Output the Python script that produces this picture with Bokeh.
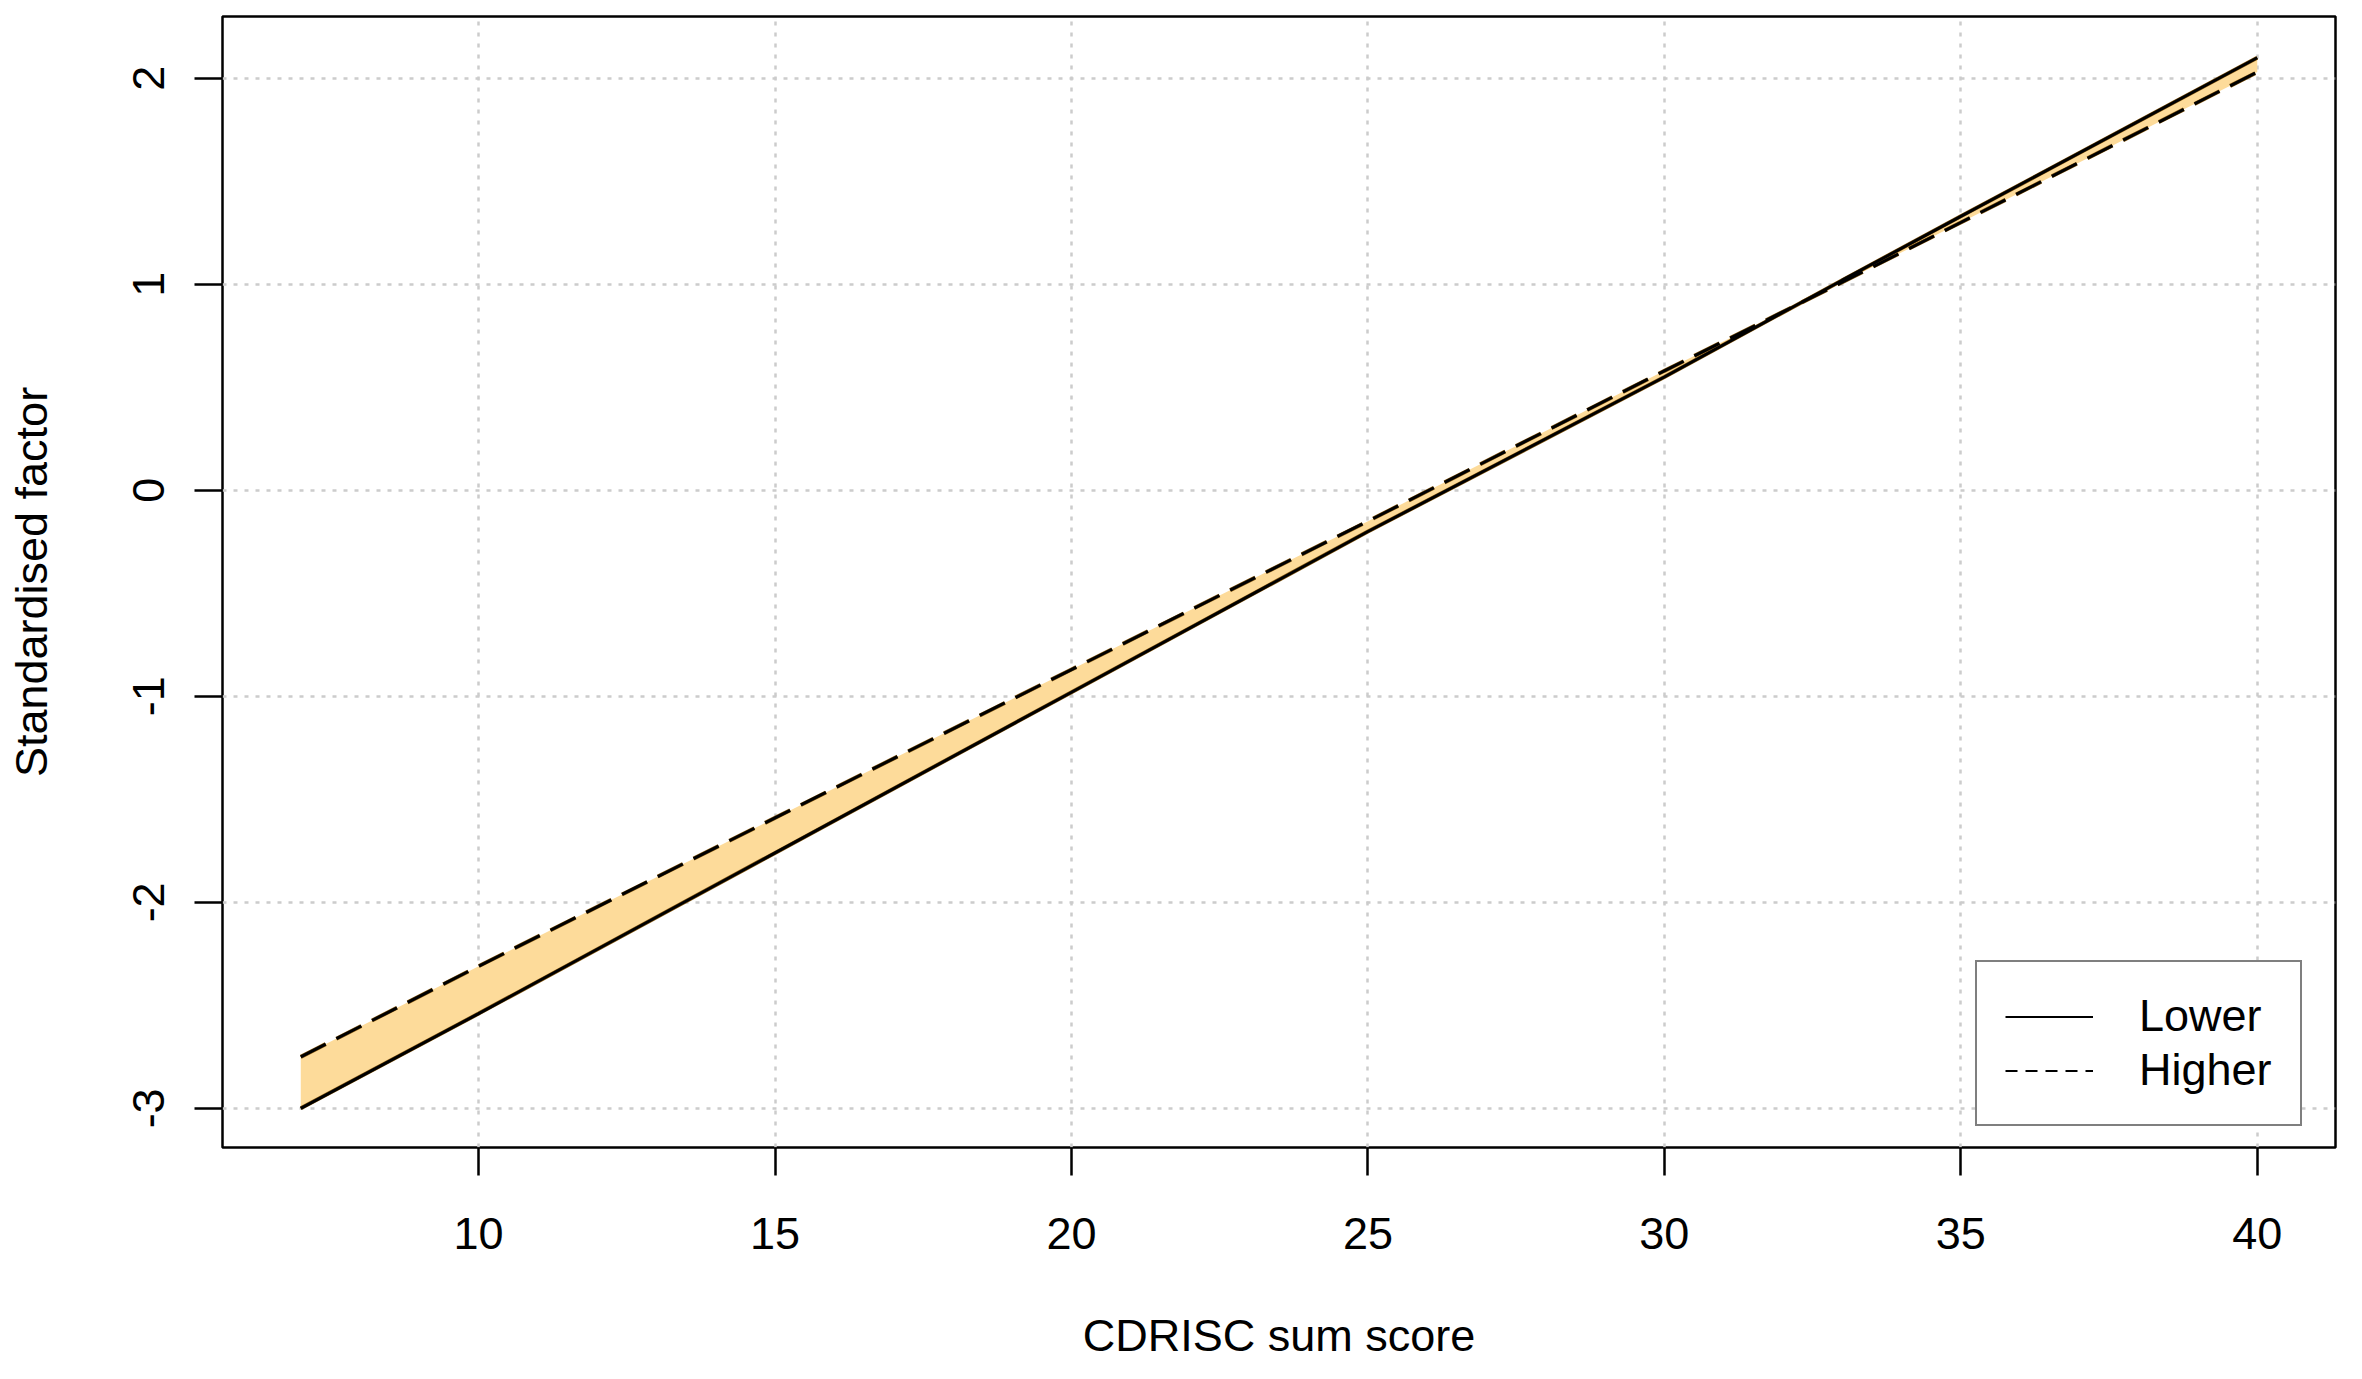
import numpy as np
from bokeh.plotting import figure
from bokeh.models import Range1d, Legend, LegendItem, FixedTicker, ColumnDataSource
from bokeh.embed import file_html
from bokeh.resources import INLINE

# Data
cdrisc = [7, 10, 15, 20, 25, 30, 33, 35, 40]
lower = [-3.00, -2.54, -1.76, -0.98, -0.20, 0.55, 1.02, 1.33, 2.10]
higher = [-2.75, -2.31, -1.59, -0.87, -0.15, 0.58, 1.01, 1.30, 2.03]
x_ticks = [10, 15, 20, 25, 30, 35, 40]
y_ticks = [-3, -2, -1, 0, 1, 2]
legend_labels = ["Lower", "Higher"]

FONT = "Liberation Sans"
FS = "45px"

src = ColumnDataSource(dict(x=cdrisc, lower=lower, higher=higher))

p = figure(width=2346, height=1363, output_backend="svg", toolbar_location=None,
           x_range=Range1d(5.68, 41.32), y_range=Range1d(-3.19, 2.30),
           min_border_left=222, min_border_right=11, min_border_top=16, min_border_bottom=216)

p.background_fill_color = "white"
p.border_fill_color = "white"
p.outline_line_color = "black"
p.outline_line_width = 2.5

# band between the two curves
p.varea(x="x", y1="lower", y2="higher", source=src, fill_color="#FDDB9A")
p.line(x="x", y="lower", source=src, line_color="#8a5c14", line_width=4)
p.line(x="x", y="higher", source=src, line_color="#8a5c14", line_width=4, line_dash="28 12")
p.line(x="x", y="lower", source=src, line_color="black", line_width=3)
p.line(x="x", y="higher", source=src, line_color="black", line_width=3, line_dash="28 12")

# legend key samples (no visible data)
nan_src = ColumnDataSource(dict(x=np.array([np.nan]), y=np.array([np.nan])))
leg_l = p.line(x="x", y="y", source=nan_src, line_color="black", line_width=2)
leg_h = p.line(x="x", y="y", source=nan_src, line_color="black", line_width=2, line_dash="12 8")

for ax in (p.xaxis[0], p.yaxis[0]):
    ax.axis_line_color = None
    ax.major_tick_line_color = "black"
    ax.major_tick_line_width = 2.5
    ax.major_tick_out = 28
    ax.major_tick_in = 0
    ax.minor_tick_line_color = None
    ax.major_label_text_font = FONT
    ax.major_label_text_font_size = FS
    ax.major_label_text_color = "black"
    ax.axis_label_text_font = FONT
    ax.axis_label_text_font_size = FS
    ax.axis_label_text_font_style = "normal"
    ax.axis_label_text_color = "black"

p.xaxis.ticker = FixedTicker(ticks=x_ticks)
p.yaxis.ticker = FixedTicker(ticks=y_ticks)
p.xaxis.major_label_overrides = {t: str(t) for t in x_ticks}
p.yaxis.major_label_overrides = {t: str(t) for t in y_ticks}
p.xaxis.axis_label = "CDRISC sum score"
p.yaxis.axis_label = "Standardised factor"
p.xaxis.major_label_standoff = 42
p.xaxis.axis_label_standoff = 58
p.yaxis.major_label_orientation = "vertical"
p.yaxis.major_label_standoff = 30
p.yaxis.axis_label_standoff = 74

p.xgrid.ticker = FixedTicker(ticks=x_ticks)
p.ygrid.ticker = FixedTicker(ticks=y_ticks)
for g in (p.xgrid[0], p.ygrid[0]):
    g.grid_line_color = "#CCCCCC"
    g.grid_line_width = 2.5
    g.grid_line_dash = "4 7"

legend = Legend(items=[LegendItem(label=legend_labels[0], renderers=[leg_l]),
                       LegendItem(label=legend_labels[1], renderers=[leg_h])],
                location=(1753, 21))
legend.label_text_font = FONT
legend.label_text_font_size = FS
legend.label_text_color = "black"
legend.glyph_width = 88
legend.glyph_height = 45
legend.label_height = 45
legend.label_standoff = 46
legend.spacing = 2
legend.padding = 28
legend.margin = 0
legend.border_line_color = "black"
legend.border_line_width = 2.5
legend.background_fill_color = "white"
legend.background_fill_alpha = 1.0
p.add_layout(legend, "center")

open("out.html", "w").write(file_html(p, INLINE))
